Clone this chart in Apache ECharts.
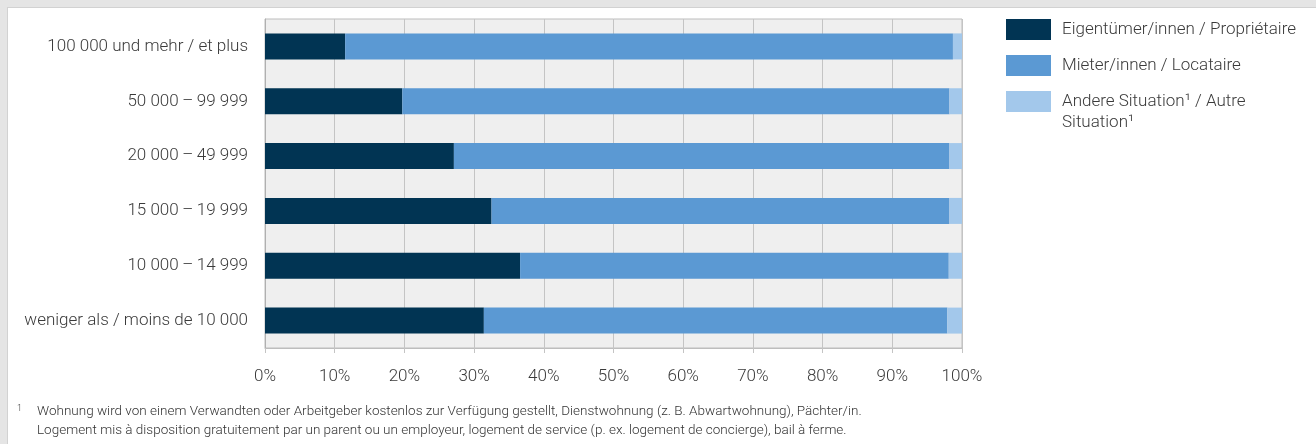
<!DOCTYPE html>
<html>
<head>
<meta charset="utf-8">
<script src="https://cdn.jsdelivr.net/npm/echarts@6/dist/echarts.min.js"></script>
<style>
  html, body { margin: 0; padding: 0; width: 1316px; height: 444px; overflow: hidden; background: #e5e5e5; }
  #frame { position: absolute; left: 7px; top: 7px; width: 1320px; height: 450px; background: #ffffff; border: 1px solid #d2d2d2; box-sizing: border-box; }
  #chart { position: absolute; left: 0; top: 0; width: 1316px; height: 444px; }
</style>
</head>
<body>
<div id="frame"></div>
<div id="chart"></div>
<script>
// Categories, top to bottom
const categories = [
  '100 000 und mehr / et plus',
  '50 000\u2009\u2013\u200999 999',
  '20 000\u2009\u2013\u200949 999',
  '15 000\u2009\u2013\u200919 999',
  '10 000\u2009\u2013\u200914 999',
  'weniger als / moins de 10 000'
];
const seriesNames = [
  'Eigentümer/innen / Propriétaire',
  'Mieter/innen / Locataire',
  'Andere Situation¹ / Autre Situation¹'
];
const owners  = [11.5, 19.7, 27.1, 32.5, 36.6, 31.4];
const tenants = [87.2, 78.5, 71.1, 65.7, 61.5, 66.5];
const others  = [1.3, 1.8, 1.8, 1.8, 1.9, 2.1];
const xTicks = { min: 0, max: 100, interval: 10 };
const footnoteLines = [
  'Wohnung wird von einem Verwandten oder Arbeitgeber kostenlos zur Verfügung gestellt, Dienstwohnung (z. B. Abwartwohnung), Pächter/in.',
  'Logement mis à disposition gratuitement par un parent ou un employeur, logement de service (p. ex. logement de concierge), bail à ferme.'
];
const colors = ['#013453', '#5b99d3', '#a3c8eb'];

const FONT = 'Roboto, "Noto Sans", sans-serif';
const W = 300;
const chart = echarts.init(document.getElementById('chart'), null, { renderer: 'canvas' });

const values = [owners, tenants, others];
const option = {
  animation: false,
  textStyle: { fontFamily: FONT, fontWeight: W },
  grid: {
    left: 265, right: 354, top: 19, bottom: 96,
    show: true, backgroundColor: '#efefef', borderColor: '#bdbdbd', borderWidth: 1
  },
  legend: [
    {
      orient: 'vertical', left: 1006, top: 19, padding: 0,
      itemWidth: 45, itemHeight: 21, itemGap: 15, icon: 'rect',
      data: [seriesNames[0], seriesNames[1]],
      textStyle: { fontFamily: FONT, fontWeight: W, fontSize: 17, color: '#3a3a3a', padding: [0, 0, 0, 6] }
    },
    {
      orient: 'vertical', left: 1006, top: 70, padding: 0,
      itemWidth: 45, itemHeight: 21, icon: 'rect',
      data: [seriesNames[2]],
      formatter: function (n) { return '\n' + n.replace('Autre Situation¹', 'Autre\nSituation¹'); },
      textStyle: { fontFamily: FONT, fontWeight: W, fontSize: 17, color: '#3a3a3a', lineHeight: 21, padding: [0, 0, 0, 6] }
    }
  ],
  xAxis: {
    type: 'value', min: xTicks.min, max: xTicks.max, interval: xTicks.interval,
    axisLine: { show: true, lineStyle: { color: '#bdbdbd' } },
    axisTick: { show: true, length: 5, lineStyle: { color: '#c4c4c4' } },
    splitLine: { show: true, lineStyle: { color: '#c4c4c4', width: 1 } },
    axisLabel: { formatter: '{value}%', color: '#3a3a3a', fontSize: 17, fontWeight: W, fontFamily: FONT, margin: 20 }
  },
  yAxis: {
    type: 'category', inverse: true, data: categories,
    axisLine: { show: true, lineStyle: { color: '#b0b0b0' } },
    axisTick: { show: false },
    axisLabel: { color: '#3a3a3a', fontSize: 17, fontWeight: W, fontFamily: FONT, margin: 17 }
  },
  series: seriesNames.map(function (name, i) {
    return {
      name: name, type: 'bar', stack: 'total', barWidth: 26,
      itemStyle: { color: colors[i] },
      data: values[i]
    };
  }),
  graphic: [
    { type: 'text', left: 17, top: 404, style: { text: '1', fontSize: 9, fontWeight: W, fill: '#444', fontFamily: FONT } },
    { type: 'text', left: 37, top: 402, style: { text: footnoteLines.join('\n'), fontSize: 13.5, fontWeight: W, lineHeight: 19, fill: '#333', fontFamily: FONT } }
  ]
};
chart.setOption(option);
</script>
</body>
</html>
